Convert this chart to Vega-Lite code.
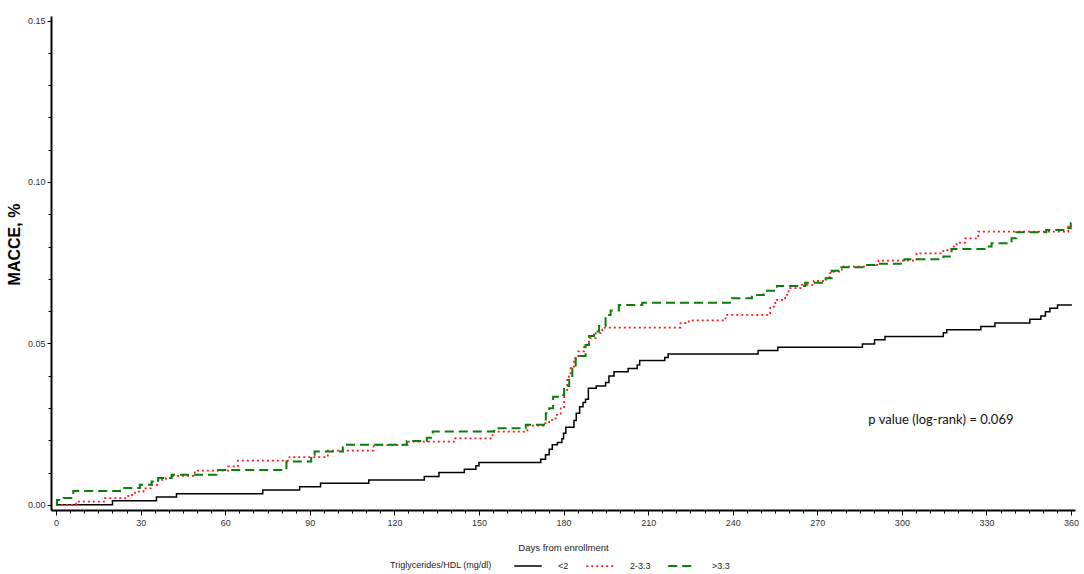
{
  "$schema": "https://vega.github.io/schema/vega-lite/v6.json",
  "width": 1024,
  "height": 494,
  "autosize": {"type": "none"},
  "padding": {"left": 51, "top": 16, "right": 9, "bottom": 64},
  "background": "white",
  "config": {"view": {"stroke": null}, "font": "Liberation Sans"},
  "datasets": {
    "km": [
      {"g": "<2", "day": 0, "v": 0},
      {"g": "<2", "day": 20, "v": 0.0013},
      {"g": "<2", "day": 35.6, "v": 0.0024},
      {"g": "<2", "day": 42.7, "v": 0.0034},
      {"g": "<2", "day": 73.3, "v": 0.0046},
      {"g": "<2", "day": 86.4, "v": 0.0056},
      {"g": "<2", "day": 93.8, "v": 0.0067},
      {"g": "<2", "day": 110.9, "v": 0.0077},
      {"g": "<2", "day": 130.6, "v": 0.0088},
      {"g": "<2", "day": 135.8, "v": 0.0100},
      {"g": "<2", "day": 144.8, "v": 0.0110},
      {"g": "<2", "day": 148.9, "v": 0.0121},
      {"g": "<2", "day": 150, "v": 0.0131},
      {"g": "<2", "day": 171.9, "v": 0.0141},
      {"g": "<2", "day": 173.6, "v": 0.0155},
      {"g": "<2", "day": 174.9, "v": 0.0172},
      {"g": "<2", "day": 176, "v": 0.0186},
      {"g": "<2", "day": 177.8, "v": 0.0193},
      {"g": "<2", "day": 179.4, "v": 0.0205},
      {"g": "<2", "day": 180, "v": 0.0222},
      {"g": "<2", "day": 180.8, "v": 0.0240},
      {"g": "<2", "day": 183.7, "v": 0.0261},
      {"g": "<2", "day": 184.5, "v": 0.0284},
      {"g": "<2", "day": 185.7, "v": 0.0304},
      {"g": "<2", "day": 186.9, "v": 0.0317},
      {"g": "<2", "day": 187.8, "v": 0.0327},
      {"g": "<2", "day": 188.8, "v": 0.0361},
      {"g": "<2", "day": 191.6, "v": 0.0368},
      {"g": "<2", "day": 194.9, "v": 0.0379},
      {"g": "<2", "day": 196.1, "v": 0.0399},
      {"g": "<2", "day": 197.9, "v": 0.0412},
      {"g": "<2", "day": 202.9, "v": 0.0422},
      {"g": "<2", "day": 206.1, "v": 0.0433},
      {"g": "<2", "day": 207, "v": 0.0447},
      {"g": "<2", "day": 215.9, "v": 0.0456},
      {"g": "<2", "day": 217.1, "v": 0.0467},
      {"g": "<2", "day": 249, "v": 0.0478},
      {"g": "<2", "day": 256, "v": 0.0488},
      {"g": "<2", "day": 286, "v": 0.0498},
      {"g": "<2", "day": 290.3, "v": 0.0511},
      {"g": "<2", "day": 294, "v": 0.0521},
      {"g": "<2", "day": 314.7, "v": 0.0533},
      {"g": "<2", "day": 315.9, "v": 0.0542},
      {"g": "<2", "day": 328, "v": 0.0552},
      {"g": "<2", "day": 333, "v": 0.0563},
      {"g": "<2", "day": 345.4, "v": 0.0575},
      {"g": "<2", "day": 349.3, "v": 0.0585},
      {"g": "<2", "day": 350.9, "v": 0.0598},
      {"g": "<2", "day": 352.5, "v": 0.0609},
      {"g": "<2", "day": 355.2, "v": 0.0619},
      {"g": "<2", "day": 360.3, "v": 0.0619},
      {"g": "2-3.3", "day": 0, "v": 0},
      {"g": "2-3.3", "day": 7.1, "v": 0.0010},
      {"g": "2-3.3", "day": 17.3, "v": 0.0021},
      {"g": "2-3.3", "day": 25.6, "v": 0.0031},
      {"g": "2-3.3", "day": 28, "v": 0.0041},
      {"g": "2-3.3", "day": 31, "v": 0.0051},
      {"g": "2-3.3", "day": 34, "v": 0.0062},
      {"g": "2-3.3", "day": 36.2, "v": 0.0077},
      {"g": "2-3.3", "day": 39, "v": 0.0083},
      {"g": "2-3.3", "day": 41.5, "v": 0.0090},
      {"g": "2-3.3", "day": 49.2, "v": 0.0106},
      {"g": "2-3.3", "day": 61, "v": 0.0119},
      {"g": "2-3.3", "day": 64.5, "v": 0.0137},
      {"g": "2-3.3", "day": 82.8, "v": 0.0148},
      {"g": "2-3.3", "day": 96.4, "v": 0.0168},
      {"g": "2-3.3", "day": 112.6, "v": 0.0185},
      {"g": "2-3.3", "day": 124.7, "v": 0.0196},
      {"g": "2-3.3", "day": 141.5, "v": 0.0206},
      {"g": "2-3.3", "day": 154.8, "v": 0.0227},
      {"g": "2-3.3", "day": 167.2, "v": 0.0245},
      {"g": "2-3.3", "day": 173.1, "v": 0.0253},
      {"g": "2-3.3", "day": 174.9, "v": 0.0263},
      {"g": "2-3.3", "day": 177.2, "v": 0.0279},
      {"g": "2-3.3", "day": 179, "v": 0.0299},
      {"g": "2-3.3", "day": 180.2, "v": 0.0356},
      {"g": "2-3.3", "day": 181.3, "v": 0.0397},
      {"g": "2-3.3", "day": 182.5, "v": 0.0428},
      {"g": "2-3.3", "day": 183.7, "v": 0.0454},
      {"g": "2-3.3", "day": 185.2, "v": 0.0475},
      {"g": "2-3.3", "day": 187.3, "v": 0.0495},
      {"g": "2-3.3", "day": 189, "v": 0.0516},
      {"g": "2-3.3", "day": 191.4, "v": 0.0532},
      {"g": "2-3.3", "day": 193.7, "v": 0.0549},
      {"g": "2-3.3", "day": 221.5, "v": 0.0563},
      {"g": "2-3.3", "day": 224.4, "v": 0.0571},
      {"g": "2-3.3", "day": 237.4, "v": 0.0588},
      {"g": "2-3.3", "day": 253.3, "v": 0.0614},
      {"g": "2-3.3", "day": 255.1, "v": 0.0635},
      {"g": "2-3.3", "day": 258.6, "v": 0.0650},
      {"g": "2-3.3", "day": 259.8, "v": 0.0671},
      {"g": "2-3.3", "day": 264.5, "v": 0.0681},
      {"g": "2-3.3", "day": 268.7, "v": 0.0694},
      {"g": "2-3.3", "day": 273, "v": 0.0705},
      {"g": "2-3.3", "day": 274.6, "v": 0.0722},
      {"g": "2-3.3", "day": 278.7, "v": 0.0738},
      {"g": "2-3.3", "day": 287, "v": 0.0743},
      {"g": "2-3.3", "day": 291.7, "v": 0.0756},
      {"g": "2-3.3", "day": 305.2, "v": 0.0779},
      {"g": "2-3.3", "day": 314.7, "v": 0.0789},
      {"g": "2-3.3", "day": 317.6, "v": 0.0800},
      {"g": "2-3.3", "day": 319.4, "v": 0.0812},
      {"g": "2-3.3", "day": 322.5, "v": 0.0825},
      {"g": "2-3.3", "day": 327.1, "v": 0.0846},
      {"g": "2-3.3", "day": 359, "v": 0.0862},
      {"g": "2-3.3", "day": 360.3, "v": 0.0862},
      {"g": ">3.3", "day": 0, "v": 0},
      {"g": ">3.3", "day": 0.3, "v": 0.0015},
      {"g": ">3.3", "day": 2.6, "v": 0.0021},
      {"g": ">3.3", "day": 6.1, "v": 0.0043},
      {"g": ">3.3", "day": 22.7, "v": 0.0052},
      {"g": ">3.3", "day": 29.7, "v": 0.0062},
      {"g": ">3.3", "day": 33.9, "v": 0.0072},
      {"g": ">3.3", "day": 36.2, "v": 0.0083},
      {"g": ">3.3", "day": 41, "v": 0.0093},
      {"g": ">3.3", "day": 56.9, "v": 0.0108},
      {"g": ">3.3", "day": 81.7, "v": 0.0134},
      {"g": ">3.3", "day": 90.5, "v": 0.0155},
      {"g": ">3.3", "day": 91.7, "v": 0.0165},
      {"g": ">3.3", "day": 101.7, "v": 0.0186},
      {"g": ">3.3", "day": 124.4, "v": 0.0198},
      {"g": ">3.3", "day": 131.5, "v": 0.0208},
      {"g": ">3.3", "day": 133.6, "v": 0.0227},
      {"g": ">3.3", "day": 155.4, "v": 0.0237},
      {"g": ">3.3", "day": 166.6, "v": 0.0248},
      {"g": ">3.3", "day": 173.7, "v": 0.0284},
      {"g": ">3.3", "day": 174.9, "v": 0.0299},
      {"g": ">3.3", "day": 176.3, "v": 0.0335},
      {"g": ">3.3", "day": 178.4, "v": 0.0340},
      {"g": ">3.3", "day": 180.2, "v": 0.0368},
      {"g": ">3.3", "day": 182, "v": 0.0387},
      {"g": ">3.3", "day": 183.1, "v": 0.0423},
      {"g": ">3.3", "day": 184.3, "v": 0.0461},
      {"g": ">3.3", "day": 187.8, "v": 0.0495},
      {"g": ">3.3", "day": 189, "v": 0.0523},
      {"g": ">3.3", "day": 190.8, "v": 0.0537},
      {"g": ">3.3", "day": 192.6, "v": 0.0554},
      {"g": ">3.3", "day": 194.9, "v": 0.0588},
      {"g": ">3.3", "day": 196.7, "v": 0.0602},
      {"g": ">3.3", "day": 199.6, "v": 0.0619},
      {"g": ">3.3", "day": 207.9, "v": 0.0626},
      {"g": ">3.3", "day": 239.7, "v": 0.0640},
      {"g": ">3.3", "day": 246.8, "v": 0.0650},
      {"g": ">3.3", "day": 251, "v": 0.0663},
      {"g": ">3.3", "day": 255.7, "v": 0.0678},
      {"g": ">3.3", "day": 265.7, "v": 0.0688},
      {"g": ">3.3", "day": 273, "v": 0.0702},
      {"g": ">3.3", "day": 275.1, "v": 0.0725},
      {"g": ">3.3", "day": 278.1, "v": 0.0736},
      {"g": ">3.3", "day": 287, "v": 0.0743},
      {"g": ">3.3", "day": 290.5, "v": 0.0747},
      {"g": ">3.3", "day": 300.9, "v": 0.0761},
      {"g": ">3.3", "day": 314.7, "v": 0.0769},
      {"g": ">3.3", "day": 317.6, "v": 0.0792},
      {"g": ">3.3", "day": 329.4, "v": 0.0800},
      {"g": ">3.3", "day": 331.8, "v": 0.0810},
      {"g": ">3.3", "day": 338.9, "v": 0.0826},
      {"g": ">3.3", "day": 340.6, "v": 0.0844},
      {"g": ">3.3", "day": 351.2, "v": 0.0851},
      {"g": ">3.3", "day": 358.9, "v": 0.0857},
      {"g": ">3.3", "day": 359.9, "v": 0.0874},
      {"g": ">3.3", "day": 360.3, "v": 0.0874}
    ],
    "note": [
      {"day": 288.1, "v": 0.0263, "label": "p value (log-rank) = 0.069"}
    ]
  },
  "layer": [
    {
      "data": {"name": "km"},
      "mark": {"type": "line", "interpolate": "step-after"},
      "encoding": {
        "x": {
          "field": "day",
          "type": "quantitative",
          "scale": {"domain": [-1.8, 361.4], "nice": false, "zero": false},
          "axis": {
            "orient": "bottom",
            "values": [0, 30, 60, 90, 120, 150, 180, 210, 240, 270, 300, 330, 360],
            "title": "Days from enrollment",
            "grid": false,
            "domainColor": "black",
            "domainWidth": 2,
            "tickColor": "black",
            "tickSize": 5,
            "tickWidth": 1,
            "labelFontSize": 9,
            "labelColor": "#333333",
            "labelPadding": 3,
            "titleFontSize": 9.5,
            "titleFontWeight": "normal",
            "titleColor": "#222222",
            "titlePadding": 15
          }
        },
        "y": {
          "field": "v",
          "type": "quantitative",
          "scale": {"domain": [-0.0016, 0.1514], "nice": false, "zero": false},
          "axis": {
            "orient": "left",
            "values": [0, 0.05, 0.1, 0.15],
            "format": ".2f",
            "title": "MACCE, %",
            "grid": false,
            "domainColor": "black",
            "domainWidth": 2,
            "tickColor": "black",
            "tickSize": 4,
            "tickWidth": 1,
            "labelFontSize": 9,
            "labelColor": "#333333",
            "labelPadding": 2,
            "titleFontSize": 16,
            "titleFontWeight": "bold",
            "titleColor": "black",
            "titleAngle": 270,
            "titleBaseline": "middle",
            "titleAlign": "center",
            "titleX": -37,
            "titleY": 228
          }
        },
        "color": {
          "field": "g",
          "type": "nominal",
          "title": "Triglycerides/HDL (mg/dl)",
          "scale": {"domain": ["<2", "2-3.3", ">3.3"], "range": ["#000000", "#ff1a1a", "#0a7d0a"]},
          "legend": {
            "orient": "none",
            "legendX": 339,
            "legendY": 535,
            "direction": "horizontal",
            "titleOrient": "left",
            "titleAnchor": "middle",
            "titleBaseline": "top",
            "titleFontSize": 9,
            "titleFontWeight": "normal",
            "titleColor": "#222222",
            "titlePadding": 21,
            "labelFontSize": 9,
            "labelColor": "#222222",
            "labelOffset": 15,
            "columnPadding": 13,
            "symbolType": "stroke",
            "symbolSize": 760
          }
        },
        "strokeDash": {
          "field": "g",
          "type": "nominal",
          "title": "Triglycerides/HDL (mg/dl)",
          "scale": {"domain": ["<2", "2-3.3", ">3.3"], "range": [[1, 0], [2, 3], [9, 5]]}
        },
        "strokeWidth": {
          "field": "g",
          "type": "nominal",
          "title": "Triglycerides/HDL (mg/dl)",
          "scale": {"domain": ["<2", "2-3.3", ">3.3"], "range": [1.5, 2, 3]}
        }
      }
    },
    {
      "data": {"name": "note"},
      "mark": {"type": "text", "align": "left", "baseline": "middle", "font": "Lato", "fontSize": 13, "color": "#111111"},
      "encoding": {
        "x": {
          "field": "day",
          "type": "quantitative",
          "axis": {
            "orient": "bottom",
            "values": [5, 10, 15, 20, 25, 35, 40, 45, 50, 55, 65, 70, 75, 80, 85, 95, 100, 105, 110, 115, 125, 130, 135, 140, 145, 155, 160, 165, 170, 175, 185, 190, 195, 200, 205, 215, 220, 225, 230, 235, 245, 250, 255, 260, 265, 275, 280, 285, 290, 295, 305, 310, 315, 320, 325, 335, 340, 345, 350, 355],
            "labels": false,
            "domain": false,
            "grid": false,
            "title": null,
            "tickColor": "black",
            "tickSize": 3,
            "tickWidth": 1
          }
        },
        "y": {
          "field": "v",
          "type": "quantitative",
          "axis": {
            "orient": "left",
            "values": [0.01, 0.02, 0.03, 0.04, 0.06, 0.07, 0.08, 0.09, 0.11, 0.12, 0.13, 0.14],
            "labels": false,
            "domain": false,
            "grid": false,
            "title": null,
            "tickColor": "black",
            "tickSize": 3,
            "tickWidth": 1
          }
        },
        "text": {"field": "label", "type": "nominal"}
      }
    }
  ],
  "resolve": {"axis": {"x": "independent", "y": "independent"}}
}
